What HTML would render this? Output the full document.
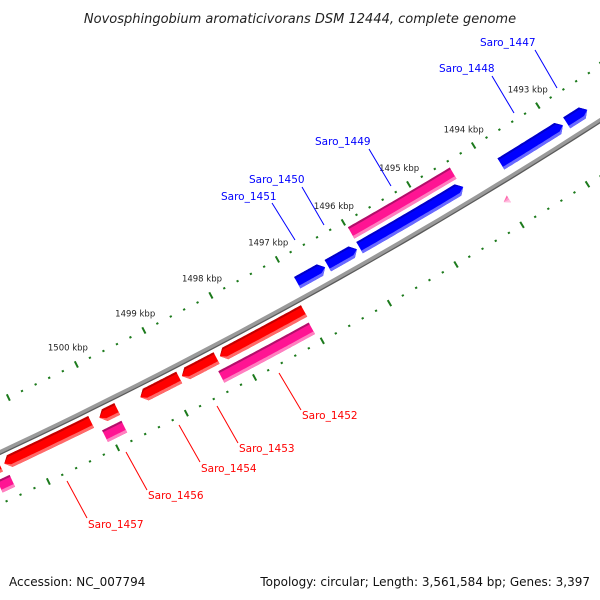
<!DOCTYPE html>
<html><head><meta charset="utf-8">
<style>
html,body{margin:0;padding:0;background:#fff;}
#wrap{width:600px;height:600px;position:relative;overflow:hidden;}
svg text{font-family:"DejaVu Sans","Liberation Sans",sans-serif;}
</style></head>
<body>
<div id="wrap">
<svg id="map" width="600" height="600" viewBox="0 0 600 600">
<text x="300" y="23" text-anchor="middle" font-size="13" font-style="italic" fill="#222">Novosphingobium aromaticivorans DSM 12444, complete genome</text>
<g id="ticks"></g>
<g id="backbone"></g>
<g id="genes"></g>
<g id="labels">
<g fill="#0000ff" font-size="10.5" stroke-width="1">
<line x1="535" y1="50" x2="557" y2="88" stroke="#0000ff"/>
<text x="480" y="46" fill="#0000ff">Saro_1447</text>
<line x1="492" y1="76" x2="514" y2="113" stroke="#0000ff"/>
<text x="439" y="72" fill="#0000ff">Saro_1448</text>
<line x1="369" y1="149" x2="391" y2="186" stroke="#0000ff"/>
<text x="315" y="145" fill="#0000ff">Saro_1449</text>
<line x1="302" y1="187" x2="324" y2="225" stroke="#0000ff"/>
<text x="249" y="183" fill="#0000ff">Saro_1450</text>
<line x1="272" y1="203" x2="295" y2="240" stroke="#0000ff"/>
<text x="221" y="200" fill="#0000ff">Saro_1451</text>
</g>
<g font-size="10.5">
<line x1="279" y1="373" x2="301" y2="410" stroke="#ff0000"/>
<text x="302" y="419" fill="#ff0000">Saro_1452</text>
<line x1="217" y1="406" x2="238" y2="443" stroke="#ff0000"/>
<text x="239" y="452" fill="#ff0000">Saro_1453</text>
<line x1="179" y1="425" x2="200" y2="462" stroke="#ff0000"/>
<text x="201" y="472" fill="#ff0000">Saro_1454</text>
<line x1="126" y1="452" x2="147" y2="490" stroke="#ff0000"/>
<text x="148" y="499" fill="#ff0000">Saro_1456</text>
<line x1="67" y1="481" x2="87" y2="518" stroke="#ff0000"/>
<text x="88" y="528" fill="#ff0000">Saro_1457</text>
</g>
</g>
<text x="9" y="586" font-size="12" fill="#111">Accession: NC_007794</text>
<text x="590" y="586" font-size="12" fill="#111" text-anchor="end">Topology: circular; Length: 3,561,584 bp; Genes: 3,397</text>
</svg>
</div>
<script>
// gene data (kbp)
const geneNames = ["Saro_1447","Saro_1448","Saro_1449b","Saro_1450","Saro_1451","Saro_1449","Saro_1452","Saro_1453","Saro_1454","Saro_1455","Saro_1456","Saro_1457","Saro_1458","Saro_1452p","Saro_1456p","Saro_1458p","Saro_1448p"];
const geneStarts = [1492.80,1493.82,1495.98,1496.46,1496.92,1495.98,1498.27,1498.83,1499.44,1500.04,1501.42,1501.62,1498.38,1500.08,1501.60,1494.05];
const geneEnds   = [1492.48,1492.86,1494.40,1496.02,1496.50,1494.42,1497.02,1498.32,1498.87,1499.78,1500.16,1501.48,1497.04,1499.80,1501.42,1493.97];
const geneTracks = ["fwd","fwd","fwd","fwd","fwd","fwdpink","rev","rev","rev","rev","rev","rev","revpink","revpink","revpink","revtiny"];
const tickLabels = [1493,1494,1495,1496,1497,1498,1499,1500];
</script>
<script>
const NS="http://www.w3.org/2000/svg";
const CX=-2204, CY=-4242, R0=5186;
function ang(k){return (62.82-0.843*(1499-k))*Math.PI/180;}
function P(k,off){const a=ang(k),r=R0+off;return [CX+r*Math.cos(a),CY+r*Math.sin(a)];}
function mk(tag,attrs,parent){const e=document.createElementNS(NS,tag);for(const k in attrs)e.setAttribute(k,attrs[k]);parent.appendChild(e);return e;}
function arc(k1,k2,off){const pts=[];const n=40;for(let i=0;i<=n;i++){pts.push(P(k1+(k2-k1)*i/n,off));}return pts;}
function ptsStr(p){return p.map(q=>q[0].toFixed(1)+","+q[1].toFixed(1)).join(" ");}

// backbone
const bb=document.getElementById('backbone');
let e=mk('polyline',{points:ptsStr(arc(1503,1491,1.5)),fill:'none',stroke:'#5a5a5a','stroke-width':2},bb);


e=mk('polyline',{points:ptsStr(arc(1503,1491,-0.5)),fill:'none',stroke:'#9a9a9a','stroke-width':3.5},bb);



// ticks
const tg=document.getElementById('ticks');
for(let i=0;i<=60;i++){
  const k=1491+i*0.2;
  const major=Math.abs(k-Math.round(k))<1e-6;
  [-46,47].forEach(base=>{
    const h=major?3.5:1;
    const a=P(k,base-h),b=P(k,base+h);
    const t=mk('line',{x1:a[0],y1:a[1],x2:b[0],y2:b[1],stroke:'#1c7a1c','stroke-width':major?2:2.2},tg);
    
    
  });
}
tickLabels.forEach(k=>{
  const p=P(k,-65);
  const t=mk('text',{x:p[0],y:p[1]+3,'text-anchor':'middle','font-size':8.5,fill:'#222'},tg);
  t.textContent=k+' kbp';
  
  
});

// genes
const gg=document.getElementById('genes');
const trackDef={
  fwd:{off:-16,w:13,main:'#0000ff',dark:'#0000c8',light:'#6a6aff',arrow:'end'},
  fwdpink:{off:-33,w:13,main:'#ff1493',dark:'#b0106a',light:'#ff80c0',arrow:'none'},
  rev:{off:12,w:13,main:'#ff0000',dark:'#c00000',light:'#ff6a6a',arrow:'start'},
  revpink:{off:31,w:13,main:'#ff1493',dark:'#b0106a',light:'#ff80c0',arrow:'none'},
  revtiny:{off:18,w:8,main:'#ff99cc',dark:'#ff66aa',light:'#ffc0e0',arrow:'start'}
};
const HEAD=6/ (R0) * 180/Math.PI / 0.843; // kbp equivalent of 6px
function shape(s,en,def,o1,o2){
  // s > en (kbp); returns polygon between offsets o1<o2
  const mid=def.off, hw=def.w/2;
  let left=s, right=en, pts=[];
  let ls=left, re=right;
  if(def.arrow==='end') re=Math.min(s,right+HEAD);
  if(def.arrow==='start') ls=Math.max(en,left-HEAD);
  const top=arc(ls,re,o1), bot=arc(re,ls,o2);
  pts=pts.concat(top);
  if(def.arrow==='end'){pts.push(P(right,mid));}
  pts=pts.concat(bot);
  if(def.arrow==='start'){pts.push(P(left,mid));}
  return pts;
}
for(let i=0;i<geneStarts.length;i++){
  const def=trackDef[geneTracks[i]];
  const g=mk('g',{},gg);
  
  
  const hw=def.w/2;
  const s=geneStarts[i], en=geneEnds[i];
  let p=mk('polygon',{points:ptsStr(shape(s,en,def,def.off-hw,def.off+hw)),fill:def.main},g);
  
  
  p=mk('polygon',{points:ptsStr(shape(s,en,def,def.off+hw-3,def.off+hw)),fill:def.light},g);
  
  
  p=mk('polygon',{points:ptsStr(shape(s,en,def,def.off-hw,def.off-hw+2)),fill:def.dark},g);
  
  
}
</script>
</body></html>
